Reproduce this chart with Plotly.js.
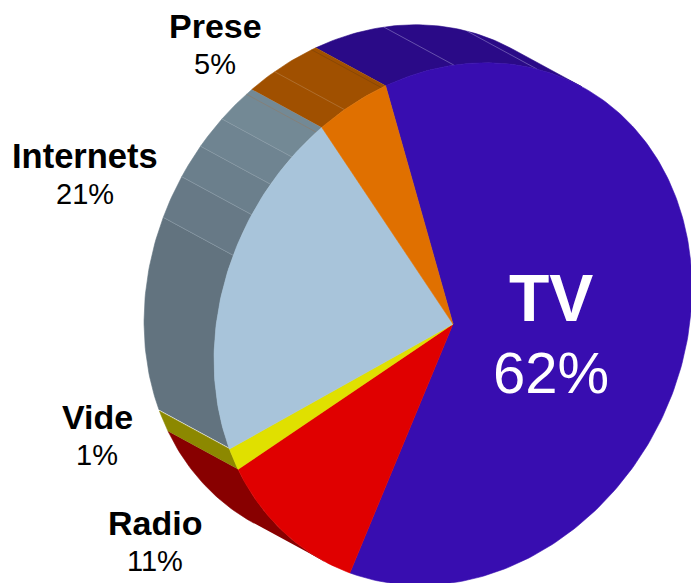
<!DOCTYPE html>
<html><head><meta charset="utf-8">
<script src="https://cdn.plot.ly/plotly-3.0.1.min.js"></script>
<style>html,body{margin:0;padding:0;background:#fff;overflow:hidden}</style>
</head><body><div id="chart" style="width:691px;height:583px"></div>
<script>
// Data
const categories = ["TV","Radio","Vide","Internets","Prese"];
const shares = [61.65,10.7,1.45,21.5,4.7];
const shareLabels = ["62%","11%","1%","21%","5%"];
const topColors = ["#380db0","#e00000","#e0e000","#a8c4da","#e07000"];
const sideColors = ["#2a0a87","#880000","#8c8800","#6a7d8b","#a05000"];
// Side facets (angle on the disc, shade)
const facetAngles = [260.5,270,277.6,285,292.5,300.4,310,327.6,348];
const facetLineColors = ["#8f9fab","#8f9fab","#8f9fab","#8f9fab","#8f7a68","#b8814a","#7a4208","#8f7fc8","#8f7fc8"];
const internetStops = [217,260.5,270,277.6,285,296];
const internetShades = ["#62737f","#677986","#6b7f8c","#6f8491","#738995"];
// Projection of the disc
const cx=453, cy=324, a=270, b=229, tilt=28.5*Math.PI/180, dx=-70, dy=-38, startAngle=-49;
const ux=Math.sin(tilt), uy=-Math.cos(tilt), vx=Math.cos(tilt), vy=Math.sin(tilt);
function pt(t,off){const r=t*Math.PI/180, c=a*Math.cos(r), s=b*Math.sin(r);
  return [cx+c*ux+s*vx+(off?dx:0), cy+c*uy+s*vy+(off?dy:0)];}
function arc(t0,t1,off){const n=Math.max(2,Math.ceil(Math.abs(t1-t0))+1),o=[];
  for(let i=0;i<n;i++) o.push(pt(t0+(t1-t0)*i/(n-1),off)); return o;}
function poly(points,fill,lineColor,lw){return {type:"scatter",mode:"lines",x:points.map(p=>p[0]),y:points.map(p=>p[1]),
  fill:"toself",fillcolor:fill,line:{color:lineColor||fill,width:lw===undefined?0.6:lw},hoverinfo:"skip",showlegend:false};}
function side(t0,t1,color){return poly(arc(t0,t1,false).concat(arc(t1,t0,true)),color);}
const traces=[];
const bounds=[startAngle]; shares.forEach(v=>bounds.push(bounds[bounds.length-1]+v*3.6));
shares.forEach((v,i)=>{
  for(const k of [0,360,-360]){
    const lo=Math.max(bounds[i]+k,180), hi=Math.min(bounds[i+1]+k,360);
    if(hi>lo){
      if(categories[i]==="Internets"){
        for(let j=0;j<internetShades.length;j++) {
          const l=Math.max(lo,internetStops[j]), h=Math.min(hi,internetStops[j+1]);
          if(h>l) traces.push(side(l,h,internetShades[j]));
        }
      } else traces.push(side(lo,hi,sideColors[i]));
    }
  }
});
facetAngles.forEach((t,i)=>{const p=[pt(t,true),pt(t,false)];
  traces.push({type:"scatter",mode:"lines",x:p.map(q=>q[0]),y:p.map(q=>q[1]),line:{color:facetLineColors[i],width:0.6},hoverinfo:"skip",showlegend:false});});
shares.forEach((v,i)=>{
  const pts=[[cx,cy]].concat(arc(bounds[i],bounds[i+1],false)); pts.push([cx,cy]);
  traces.push(poly(pts,topColors[i]));
});
const labelPos={TV:[551,298,372,66,58,"#fff"],Radio:[155,523,561,34,29,"#000"],Vide:[97,417,455,34,29,"#000"],
  Internets:[85,156,194,34.5,29,"#000"],Prese:[215,26,64,34,29,"#000"]};
const annotations=[];
categories.forEach((c,i)=>{const p=labelPos[c];
  annotations.push({x:p[0],y:p[1],xref:"x",yref:"y",text:"<b>"+c+"</b>",showarrow:false,xanchor:"center",yanchor:"middle",
    font:{family:"Liberation Sans",size:p[3],color:p[5]}});
  annotations.push({x:p[0],y:p[2],xref:"x",yref:"y",text:shareLabels[i],showarrow:false,xanchor:"center",yanchor:"middle",
    font:{family:"Liberation Sans",size:p[4],color:p[5]}});
});
Plotly.newPlot("chart",traces,{width:691,height:583,margin:{l:0,r:0,t:0,b:0},paper_bgcolor:"#fff",plot_bgcolor:"#fff",showlegend:false,
  xaxis:{range:[0,691],visible:false,fixedrange:true},yaxis:{range:[583,0],visible:false,fixedrange:true},annotations:annotations},
  {displayModeBar:false,staticPlot:true});
</script></body></html>
